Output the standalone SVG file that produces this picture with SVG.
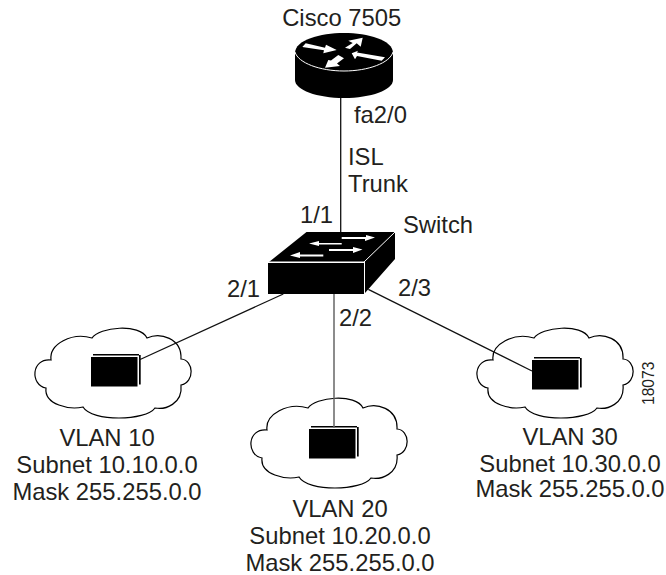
<svg xmlns="http://www.w3.org/2000/svg" width="666" height="575" viewBox="0 0 666 575">
<style>
text{font-family:"Liberation Sans",Arial,sans-serif;font-size:23.800px;fill:#231f20}
.m{text-anchor:middle}
.w{stroke:#111;stroke-width:1.300;fill:none}
.c{fill:#fff;stroke:#000;stroke-width:1.200}
.arr{fill:#fff}
</style>
<defs>
<path id="cloud" d="M92 338C99 327 140 323 147 338C160 332 182 338 181 359C194 360 195 382 181 385C183 404 165 410 155 408C146 421 92 422 83 407C70 410 44 405 46 388C30 385 31 358 51 360C49 344 72 332 92 338Z"/>
<g id="box"><rect x="2" y="-3" width="46" height="1.500" fill="#000"/><rect x="0" y="0" width="46.500" height="29.500" fill="#000"/><rect x="48" y="-2" width="1.700" height="29.500" fill="#000"/></g>
</defs>
<g id="router">
<path d="M295 52V80C295 90 317 98 344 98S393 90 393 80V52Z" fill="#000"/>
<path d="M295 53C295 40 320 33 344 33S393 40 393 53V54H295Z" fill="#000"/>
<path d="M295 52C298 63 320 71 344 71S390 63 393 52" fill="none" stroke="#fff" stroke-width="1"/>
<path class="arr" d="M302.300 47L305.700 43.300L325 47.700L326 44.700L336.700 50L323.300 53.300L324 50.300Z"/>
<path class="arr" d="M345 47.700L350 49L356.700 43.300L360.700 46.700L362.700 37.700L348.300 40.700L352.700 43Z"/>
<path class="arr" d="M351.700 53.300L358 50.700L357 52.500L385 57.300L381.700 60.700L357 56L355 59.300Z"/>
<path class="arr" d="M325 67.700L340 66L337 63.500L344 58.300L338.300 55L331 60.500L328.300 60Z"/>
<text class="m" x="341.700" y="26">Cisco 7505</text>
</g>
<g id="switch">
<path d="M306.500 232H395V259L365 293V262H269Z" fill="#000"/>
<rect x="268" y="263" width="96" height="31" fill="#000"/>
<path d="M269 262H364L395 232M364.500 262V293" fill="none" stroke="#fff" stroke-width="1"/>
<path d="M341.700 237H366V235L375 237.500L365 241V239H341.700Z" class="arr"/>
<path d="M341.700 243H319V241L309 243.500L319 246V244.500H341.700Z" class="arr"/>
<path d="M329 249H353V247L362.500 249.500L353 253V251H329Z" class="arr"/>
<path d="M323.300 254.500H300V252L290 255.500L300 258V256.500H323.300Z" class="arr"/>
<text x="403" y="232.700">Switch</text>
</g>
<g id="vlan10">
<use href="#cloud" class="c"/>
<use href="#box" x="91" y="357"/>
<text class="m" x="107" y="446.400">VLAN 10</text>
<text class="m" x="107" y="472.700">Subnet 10.10.0.0</text>
<text class="m" x="107" y="500">Mask 255.255.0.0</text>
</g>
<g id="vlan20">
<use href="#cloud" class="c" x="216" y="70"/>
<use href="#box" x="309" y="429"/>
<text class="m" x="340" y="516.700">VLAN 20</text>
<text class="m" x="340" y="544.300">Subnet 10.20.0.0</text>
<text class="m" x="340" y="571">Mask 255.255.0.0</text>
</g>
<g id="vlan30">
<use href="#cloud" class="c" x="442" y="0"/>
<use href="#box" x="532" y="360"/>
<text class="m" x="570" y="445">VLAN 30</text>
<text class="m" x="570" y="471.700">Subnet 10.30.0.0</text>
<text class="m" x="570" y="497.300">Mask 255.255.0.0</text>
</g>
<g id="connectors">
<path class="w" d="M340.700 98V232"/>
<path class="w" d="M283.300 294L139 360"/>
<path class="w" d="M334 294V428" style="stroke:#666;stroke-width:1.500"/>
<path class="w" d="M368.300 289.300L532 371"/>
</g>
<g id="labels">
<text x="354" y="122.700">fa2/0</text>
<text x="348" y="165">ISL</text>
<text x="348" y="191.700">Trunk</text>
<text x="300" y="222.700">1/1</text>
<text x="227" y="297.300">2/1</text>
<text x="339" y="325.700">2/2</text>
<text x="398" y="295.700">2/3</text>
<text transform="translate(654 405) rotate(-90)" style="font-size:15.600px">18073</text>
</g>
</svg>
